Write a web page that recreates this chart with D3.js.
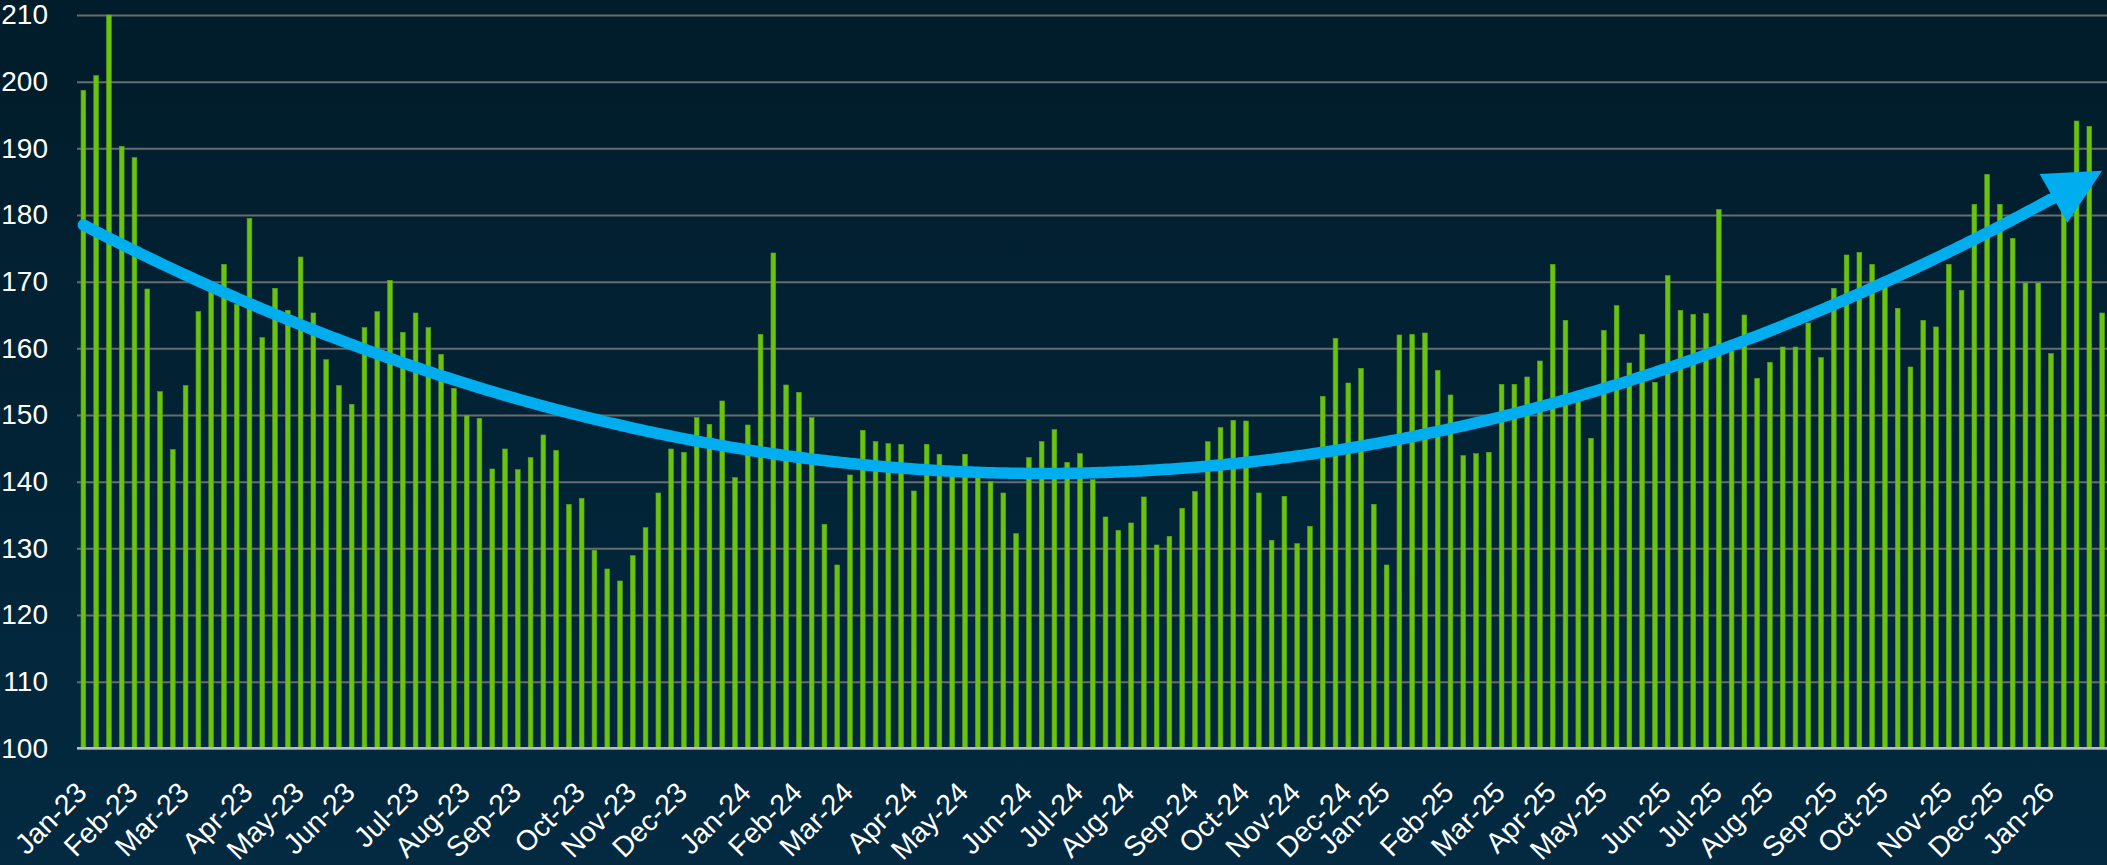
<!DOCTYPE html>
<html>
<head>
<meta charset="utf-8">
<script src="https://cdn.jsdelivr.net/npm/d3@7"></script>
<style>
  html, body { margin: 0; padding: 0; background: #021f30; overflow: hidden; }
  svg { display: block; font-family: "Liberation Sans", Arial, sans-serif; }
</style>
</head>
<body>
<div id="chart"></div>
<script>
// Weekly readings, one per Friday from Jan 6 2023 to Jan 30 2026 (two holiday weeks missing).
const firstWeek = new Date(2023, 0, 6);
const lastWeek = new Date(2026, 0, 30);
const skippedWeeks = ["2024-11-29", "2024-12-27"];

const values = [
  198.7, 200.9, 210.0, 190.3, 188.6, 168.9, 153.5, 144.8, 154.4, 165.5,
  168.7, 172.6, 166.6, 179.5, 161.6, 169.0, 165.7, 173.7, 165.3, 158.3,
  154.4, 151.6, 163.1, 165.5, 170.2, 162.4, 165.3, 163.1, 159.1, 154.0,
  149.9, 149.5, 141.9, 144.9, 141.8, 143.6, 147.0, 144.7, 136.6, 137.5,
  129.7, 126.9, 125.1, 128.9, 133.1, 138.3, 144.9, 144.4, 149.6, 148.6,
  152.1, 140.6, 148.5, 162.1, 174.3, 154.5, 153.4, 149.6, 133.6, 127.5,
  141.0, 147.7, 146.0, 145.7, 145.6, 138.6, 145.6, 144.1, 141.5, 144.1,
  141.0, 140.0, 138.3, 132.2, 143.6, 146.0, 147.8, 142.9, 144.2, 140.3,
  134.7, 132.7, 133.8, 137.7, 130.5, 131.8, 136.0, 138.5, 146.0, 148.1,
  149.2, 149.1, 138.3, 131.2, 137.8, 130.7, 133.3, 152.8, 161.5, 154.8,
  157.0, 136.6, 127.5, 162.0, 162.1, 162.3, 156.7, 153.0, 143.9, 144.2,
  144.4, 154.6, 154.6, 155.7, 158.1, 172.6, 164.2, 152.0, 146.5, 162.7,
  166.4, 157.8, 162.1, 154.9, 170.9, 165.7, 165.1, 165.2, 180.8, 159.6,
  165.0, 155.5, 157.9, 160.2, 160.2, 163.8, 158.6, 169.0, 174.0, 174.4,
  172.6, 169.4, 166.0, 157.2, 164.2, 163.2, 172.6, 168.7, 181.6, 186.1,
  181.6, 176.5, 169.8, 169.8, 159.2, 183.0, 194.1, 193.3, 165.3
];

const yTicks = [100, 110, 120, 130, 140, 150, 160, 170, 180, 190, 200, 210];

const width = 2107;
const height = 865;
const plotLeft = 77;
const plotRight = 2108.5;
const plotTop = 15;
const plotBottom = 748.3;

const skip = new Set(skippedWeeks);
const fmtKey = d3.timeFormat("%Y-%m-%d");
const weeks = d3.timeFriday
  .range(firstWeek, d3.timeDay.offset(lastWeek, 1))
  .filter((d) => !skip.has(fmtKey(d)));

const data = values.map((v, i) => ({ i, date: weeks[i], value: v }));

// first week of every month gets a label
const monthStarts = data
  .filter((d, k) => k === 0 || d.date.getMonth() !== data[k - 1].date.getMonth())
  .map((d) => d.i);
const fmtMonth = d3.timeFormat("%b-%y");

const x = d3
  .scaleBand()
  .domain(data.map((d) => d.i))
  .range([plotLeft, plotRight])
  .paddingInner(0.63)
  .paddingOuter(0.315);

const y = d3.scaleLinear().domain([100, 210]).range([plotBottom, plotTop]);

const cx = (i) => x(i) + x.bandwidth() / 2;

const svg = d3
  .select("#chart")
  .append("svg")
  .attr("width", width)
  .attr("height", height)
  .attr("viewBox", `0 0 ${width} ${height}`);

const defs = svg.append("defs");
const bg = defs
  .append("linearGradient")
  .attr("id", "bg")
  .attr("x1", 0)
  .attr("y1", 0)
  .attr("x2", 0)
  .attr("y2", 1);
bg.append("stop").attr("offset", "0%").attr("stop-color", "#011c2a");
bg.append("stop").attr("offset", "100%").attr("stop-color", "#032a41");

svg
  .append("rect")
  .attr("width", width)
  .attr("height", height)
  .attr("fill", "url(#bg)");

// Grid lines + y labels
const yAxis = svg
  .append("g")
  .attr("transform", `translate(${plotLeft},0)`)
  .call(
    d3
      .axisLeft(y)
      .tickValues(yTicks)
      .tickSize(-(width - plotLeft))
      .tickPadding(29),
  );
yAxis.select(".domain").remove();
yAxis
  .selectAll(".tick line")
  .attr("stroke", "#676c70")
  .attr("stroke-width", 2);
yAxis
  .selectAll(".tick text")
  .attr("fill", "#ffffff")
  .attr("font-size", 28)
  .attr("font-family", "Liberation Sans, Arial, sans-serif");

// Bars
svg
  .append("g")
  .selectAll("rect")
  .data(data)
  .join("rect")
  .attr("x", (d) => x(d.i))
  .attr("y", (d) => y(d.value))
  .attr("width", x.bandwidth())
  .attr("height", (d) => y(100) - y(d.value))
  .attr("fill", "#6ac40f")
  .attr("stroke", "#57a612")
  .attr("stroke-width", 0.6);

// base line over the bars
svg
  .append("line")
  .attr("x1", plotLeft)
  .attr("x2", width)
  .attr("y1", y(100))
  .attr("y2", y(100))
  .attr("stroke", "#b9bec2")
  .attr("stroke-width", 2.5);

// X axis labels
const xAxis = svg
  .append("g")
  .attr("transform", `translate(0,${plotBottom})`)
  .call(
    d3
      .axisBottom(x)
      .tickValues(monthStarts)
      .tickFormat((i) => fmtMonth(weeks[i]))
      .tickSize(0),
  );
xAxis.select(".domain").remove();
xAxis
  .selectAll(".tick text")
  .attr("fill", "#ffffff")
  .attr("font-size", 28.5)
  .attr("font-family", "Liberation Sans, Arial, sans-serif")
  .attr("text-anchor", "end")
  .attr("y", 0)
  .attr("dy", "0.35em")
  .attr("transform", "translate(-2,39) rotate(-45)");

// Polynomial (order 2) trend line fitted to the weekly values
function quadFit(pts) {
  let n = 0, sx = 0, sx2 = 0, sx3 = 0, sx4 = 0, sy = 0, sxy = 0, sx2y = 0;
  for (const [t, v] of pts) {
    n++;
    sx += t; sx2 += t * t; sx3 += t * t * t; sx4 += t * t * t * t;
    sy += v; sxy += t * v; sx2y += t * t * v;
  }
  const m = [
    [n, sx, sx2, sy],
    [sx, sx2, sx3, sxy],
    [sx2, sx3, sx4, sx2y],
  ];
  // gaussian elimination
  for (let c = 0; c < 3; c++) {
    for (let r = c + 1; r < 3; r++) {
      const f = m[r][c] / m[c][c];
      for (let k = c; k < 4; k++) m[r][k] -= f * m[c][k];
    }
  }
  const b = [0, 0, 0];
  for (let r = 2; r >= 0; r--) {
    let s = m[r][3];
    for (let k = r + 1; k < 3; k++) s -= m[r][k] * b[k];
    b[r] = s / m[r][r];
  }
  return (t) => b[0] + b[1] * t + b[2] * t * t;
}

const n = data.length;
const trend = quadFit(data.map((d) => [d.i, d.value]));
const px = (t) => cx(0) + t * x.step();
const py = (t) => y(trend(t));

// arrow head: tip at the last bar, base pulled back along the tangent
const headLen = 56;
const headWidth = 56;
const tEnd = n - 1;
const tipX = px(tEnd);
const tipY = py(tEnd);
const dx = px(tEnd) - px(tEnd - 0.5);
const dy = py(tEnd) - py(tEnd - 0.5);
const len = Math.hypot(dx, dy);
const ux = dx / len;
const uy = dy / len;
const baseX = tipX - ux * headLen;
const baseY = tipY - uy * headLen;
const tBase = (baseX - cx(0)) / x.step();

const pts = d3.range(0, tBase, 0.25).map((t) => [px(t), py(t)]);
pts.push([baseX, baseY]);

svg
  .append("path")
  .attr("d", d3.line()(pts))
  .attr("fill", "none")
  .attr("stroke", "#00aeef")
  .attr("stroke-width", 11.5)
  .attr("stroke-linecap", "round")
  .attr("stroke-linejoin", "round");

svg
  .append("path")
  .attr(
    "d",
    `M${tipX},${tipY}` +
      `L${baseX - uy * (headWidth / 2)},${baseY + ux * (headWidth / 2)}` +
      `L${baseX + uy * (headWidth / 2)},${baseY - ux * (headWidth / 2)}Z`,
  )
  .attr("fill", "#00aeef");
</script>
</body>
</html>
